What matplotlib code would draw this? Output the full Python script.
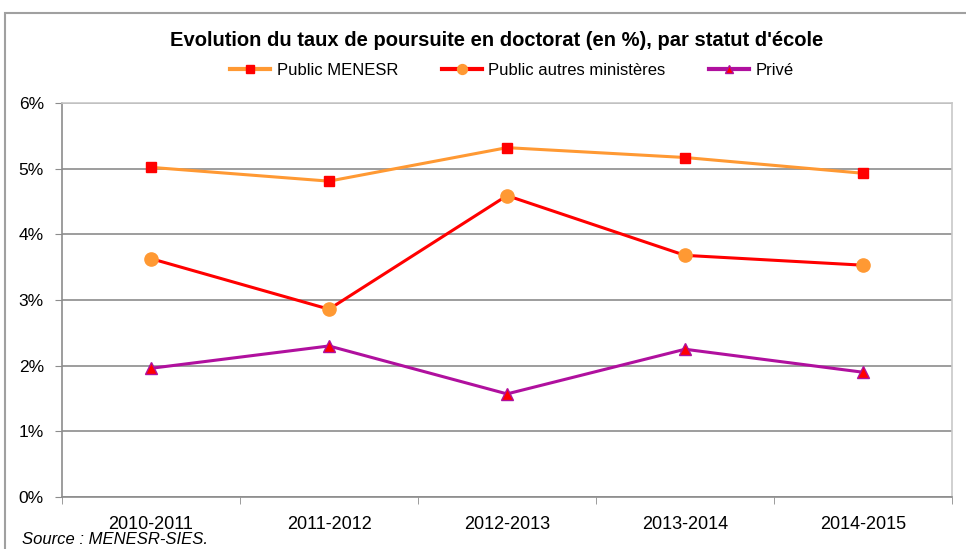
import numpy as np
import matplotlib as mpl
import matplotlib.pyplot as plt
from matplotlib.patches import Rectangle

annees = ['2010-2011', '2011-2012', '2012-2013', '2013-2014', '2014-2015']
public_menesr = [5.02, 4.81, 5.32, 5.17, 4.93]
public_autres = [3.63, 2.86, 4.59, 3.68, 3.53]
prive = [1.96, 2.30, 1.57, 2.25, 1.90]
yticks = [0, 1, 2, 3, 4, 5, 6]

plt.rcParams['font.family'] = ['Liberation Sans', 'DejaVu Sans']

fig = plt.figure(figsize=(9.66, 5.49), dpi=100)
ax = fig.add_axes([62/966, 1-497/549, (952-62)/966, (497-103)/549])

x = np.arange(len(annees))

# series
ax.plot(x, public_menesr, color='#FF9933', lw=2.2, marker='s', ms=7.5,
        mfc='#FF0000', mec='#FF0000', label='Public MENESR', zorder=3)
ax.plot(x, public_autres, color='#FF0000', lw=2.2, marker='o', ms=9.5,
        mfc='#FF9933', mec='#FF9933', label='Public autres ministères', zorder=3)
ax.plot(x, prive, color='#B0109E', lw=2.2, marker='^', ms=8.5,
        mfc='#FF0000', mec='#B0109E', label='Privé', zorder=3)

ax.set_xlim(-0.5, len(annees) - 0.5)
ax.set_ylim(0, 6)
ax.set_yticks(yticks)
ax.set_yticklabels([f'{v}%' for v in yticks], fontsize=12.5)
ax.yaxis.grid(True, color='#8C8C8C', lw=1.2)
ax.set_axisbelow(True)

ax.set_xticks(x)
ax.set_xticklabels(annees, fontsize=13)
ax.set_xticks(np.arange(len(annees) + 1) - 0.5, minor=True)
ax.tick_params(axis='x', which='major', length=0, pad=14)
ax.tick_params(axis='x', which='minor', length=5, color='#8C8C8C')
ax.tick_params(axis='y', length=5, color='#8C8C8C', pad=8)

for s in ['left', 'bottom']:
    ax.spines[s].set_color('#8C8C8C')
    ax.spines[s].set_linewidth(1.2)
for s in ['top', 'right']:
    ax.spines[s].set_color('#C8C8C8')
    ax.spines[s].set_linewidth(1.2)

fig.text(497/966, 1-40/549, "Evolution du taux de poursuite en doctorat (en %), par statut d'école",
         ha='center', va='center', fontsize=14.5, fontweight='bold')

leg = fig.legend(loc='center', bbox_to_anchor=(512/966, 1-70/549), ncol=3, frameon=False,
                 prop={'size': 12}, handlelength=2.4, markerscale=0.75,
                 columnspacing=2.6, handletextpad=0.4)
for h in leg.get_lines():
    h.set_linewidth(3)

fig.text(22/966, 1-540/549, 'Source : MENESR-SIES.', ha='left', va='center',
         fontsize=12, style='italic')

fig.patches.append(Rectangle((5/966, -0.1), 1.2, 1-13/549+0.1,
                             transform=fig.transFigure, fill=False,
                             ec='#A0A0A0', lw=1.5))

fig.savefig('out.png', dpi=100)
